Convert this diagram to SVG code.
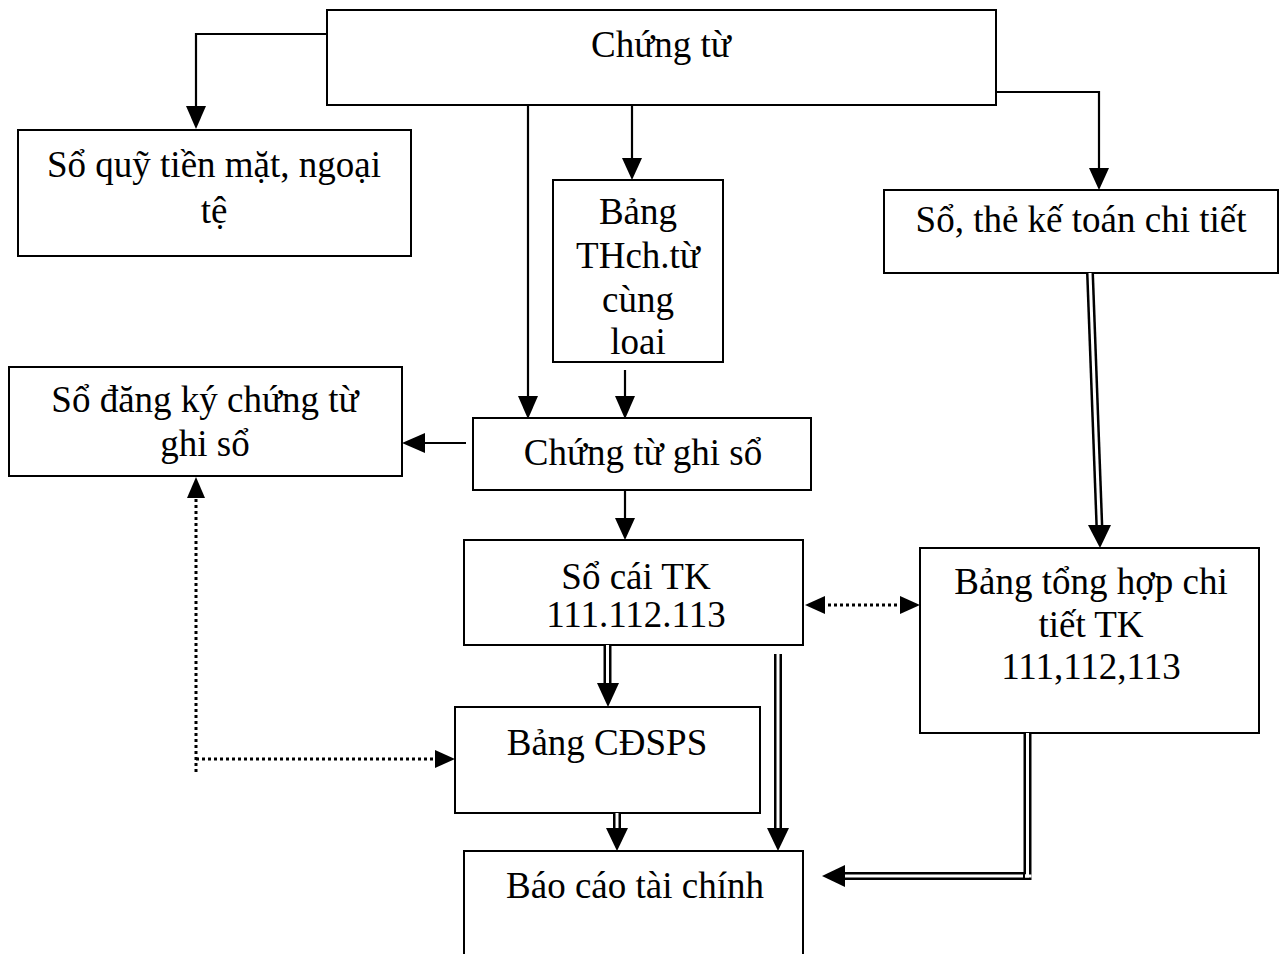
<svg xmlns="http://www.w3.org/2000/svg" width="1283" height="954" viewBox="0 0 1283 954">
<style>
.box{fill:#fff;stroke:#000;stroke-width:2}
.t{font-family:"Liberation Serif","Times New Roman",serif;font-size:37px;fill:#000;text-anchor:middle}
.ln{fill:none;stroke:#000;stroke-width:2.2}
.dot{fill:none;stroke:#000;stroke-width:3;stroke-dasharray:3 3}
.dblo{fill:none;stroke:#000;stroke-width:8}
.dbli{fill:none;stroke:#fff;stroke-width:3}
.ah{fill:#000}
</style>
<rect width="1283" height="954" fill="#fff"/>
<g id="n-chungtu"><rect class="box" x="327" y="10" width="669" height="95"/><text class="t" x="661" y="57">Chứng từ</text></g>
<g id="n-soquy"><rect class="box" x="18" y="130" width="393" height="126"/><text class="t" x="214" y="177">Sổ quỹ tiền mặt, ngoại</text><text class="t" x="214" y="223">tệ</text></g>
<g id="n-bangth"><rect class="box" x="553" y="180" width="170" height="182"/><text class="t" x="638" y="224">Bảng</text><text class="t" x="638" y="268">THch.từ</text><text class="t" x="638" y="312">cùng</text><text class="t" x="638" y="354">loai</text></g>
<g id="n-sothe"><rect class="box" x="884" y="190" width="394" height="83"/><text class="t" x="1081" y="232">Sổ, thẻ kế toán chi tiết</text></g>
<g id="n-sodangky"><rect class="box" x="9" y="367" width="393" height="109"/><text class="t" x="205" y="412">Sổ đăng ký chứng từ</text><text class="t" x="205" y="456">ghi sổ</text></g>
<g id="n-ctgs"><rect class="box" x="473" y="418" width="338" height="72"/><text class="t" x="643" y="465">Chứng từ ghi sổ</text></g>
<g id="n-socai"><rect class="box" x="464" y="540" width="339" height="105"/><text class="t" x="636" y="589">Sổ cái TK</text><text class="t" x="636" y="627">111.112.113</text></g>
<g id="n-bangthct"><rect class="box" x="920" y="548" width="339" height="185"/><text class="t" x="1091" y="594">Bảng tổng hợp chi</text><text class="t" x="1091" y="637">tiết TK</text><text class="t" x="1091" y="679">111,112,113</text></g>
<g id="n-cdsps"><rect class="box" x="455" y="707" width="305" height="106"/><text class="t" x="607" y="755">Bảng CĐSPS</text></g>
<g id="n-bctc"><rect class="box" x="464" y="851" width="339" height="110"/><text class="t" x="635" y="898">Báo cáo tài chính</text></g>
<g id="connectors">
<polyline class="ln" points="327,34 196,34 196,110"/>
<polygon class="ah" points="186,106 206,106 196,129"/>
<line class="ln" x1="528" y1="105" x2="528" y2="400"/>
<polygon class="ah" points="518,396 538,396 528,419"/>
<line class="ln" x1="632" y1="105" x2="632" y2="162"/>
<polygon class="ah" points="622,158 642,158 632,180"/>
<line class="ln" x1="625" y1="370" x2="625" y2="400"/>
<polygon class="ah" points="615,396 635,396 625,419"/>
<polyline class="ln" points="996,92 1099,92 1099,172"/>
<polygon class="ah" points="1089,168 1109,168 1099,190"/>
<line class="ln" x1="466" y1="443" x2="420" y2="443"/>
<polygon class="ah" points="425,433 425,453 402,443"/>
<line class="ln" x1="625" y1="490" x2="625" y2="522"/>
<polygon class="ah" points="615,518 635,518 625,540"/>
<line class="dblo" x1="607.5" y1="645" x2="607.5" y2="688"/>
<line class="dbli" x1="607.5" y1="645" x2="607.5" y2="688"/>
<polygon class="ah" points="597,683 619,683 608,707"/>
<line class="dblo" x1="778" y1="654" x2="778" y2="832"/>
<line class="dbli" x1="778" y1="654" x2="778" y2="832"/>
<polygon class="ah" points="767,828 789,828 778,851"/>
<line class="dblo" x1="617" y1="813" x2="617" y2="832"/>
<line class="dbli" x1="617" y1="813" x2="617" y2="832"/>
<polygon class="ah" points="606,828 628,828 617,851"/>
<line class="dblo" x1="1090" y1="273" x2="1099.5" y2="530"/>
<line class="dbli" x1="1090" y1="273" x2="1099.5" y2="530"/>
<polygon class="ah" points="1088,525 1111,525 1100,548"/>
<path class="dblo" d="M1027.5,733 V876 H842"/>
<path class="dbli" d="M1027.5,733 V876 H842"/>
<line x1="1023.5" y1="876" x2="1031.5" y2="876" stroke="#fff" stroke-width="3"/>
<line x1="1024" y1="873" x2="1024" y2="880" stroke="#000" stroke-width="2"/>
<polygon class="ah" points="845,865 845,887 822,876"/>
<line class="dot" x1="822" y1="605" x2="902" y2="605"/>
<polygon class="ah" points="825,596 825,614 805,605"/>
<polygon class="ah" points="900,596 900,614 920,605"/>
<polyline class="dot" points="196,772 196,496"/>
<polygon class="ah" points="187,498 205,498 196,477"/>
<line class="dot" x1="196" y1="759" x2="438" y2="759"/>
<polygon class="ah" points="435,750 435,768 455,759"/>
</g>
</svg>
